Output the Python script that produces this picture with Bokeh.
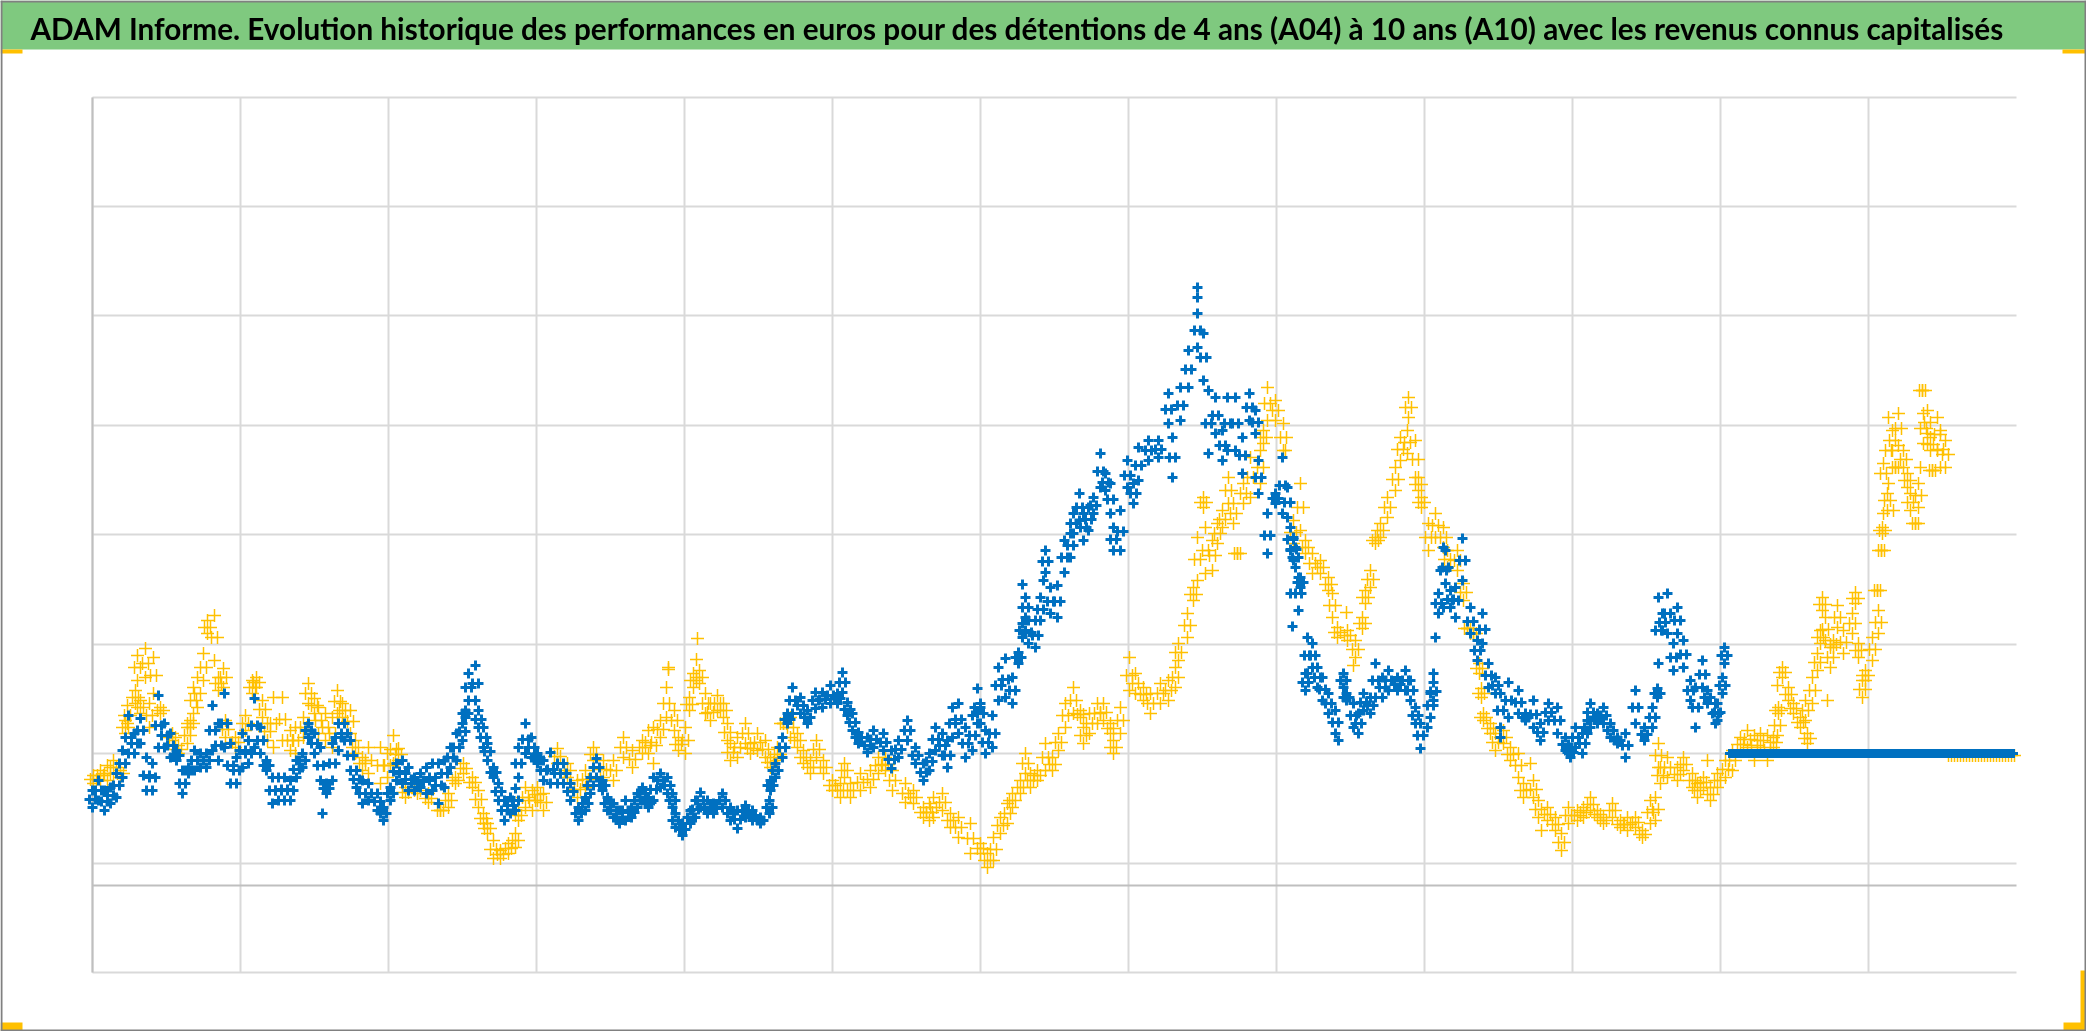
from bokeh.plotting import figure
from bokeh.models import Label, BoxAnnotation, Range1d
from bokeh.embed import file_html
from bokeh.resources import INLINE

TITLE = "ADAM Informe. Evolution historique des performances en euros pour des détentions de 4 ans (A04) à 10 ans (A10) avec les revenus connus capitalisés"

x_grid = [0, 148, 296, 444, 592, 740, 888, 1036, 1184, 1332, 1480, 1628, 1776]
y_grid = [-87, 22, 132, 241, 351, 460, 570, 679, 788]

blue_x = [0,6,12,18,24,30,36,42,48,54,60,66,72,78,84,90,96,102,108,114,120,126,132,138,144,150,156,162,168,174,180,186,192,198,204,210,216,222,228,234,240,246,252,258,264,270,276,285,291,298,304,310,316,322,328,334,340,346,352,358,364,370,373,376,383,386,391,395,401,406,412,418,423,426,433,439,445,451,458,465,471,478,486,493,498,504,510,515,521,527,533,539,545,550,556,561,568,575,580,583,590,598,603,608,615,621,630,638,645,653,660,668,677,678,683,690,695,700,708,715,723,730,738,745,750,755,760,766,775,781,791,799,806,815,823,831,837,843,850,855,860,866,873,880,885,888,893,900,906,913,920,926,930,933,936,943,948,953,958,965,972,978,981,987,991,996,1001,1008,1013,1018,1021,1028,1035,1041,1046,1056,1066,1076,1080,1088,1096,1105,1111,1116,1123,1130,1135,1143,1150,1157,1163,1166,1175,1183,1190,1195,1198,1201,1203,1206,1208,1213,1215,1220,1225,1230,1236,1243,1251,1254,1261,1266,1271,1278,1283,1290,1296,1305,1313,1318,1323,1328,1338,1341,1346,1351,1353,1358,1363,1370,1378,1385,1390,1396,1403,1408,1416,1426,1433,1441,1448,1456,1465,1473,1478,1483,1490,1495,1498,1505,1511,1518,1525,1533,1543,1552,1560,1565,1566,1570,1575,1581,1585,1591,1598,1603,1610,1615,1623,1625,1630,1632]
blue_hi = [95,105,95,98,112,135,170,152,167,128,122,190,162,152,135,115,118,135,132,132,180,162,192,142,128,152,145,187,158,125,108,108,108,105,125,132,162,152,138,102,142,162,162,145,115,105,102,92,78,98,122,125,118,108,112,118,122,122,125,138,152,162,175,212,220,175,158,142,118,102,85,88,97,138,162,148,132,125,133,122,122,102,78,88,108,127,105,88,82,75,85,78,92,98,88,108,112,108,92,72,62,75,85,93,85,82,92,78,75,80,75,68,85,105,122,148,172,198,188,175,193,193,200,192,213,183,172,153,148,155,152,135,145,165,138,122,132,158,152,145,178,182,158,170,197,182,155,170,218,227,208,233,262,288,265,265,288,335,298,300,345,352,372,392,372,378,388,432,412,402,358,375,425,402,438,445,445,492,448,498,535,572,552,495,488,455,488,488,448,492,475,425,372,392,428,398,358,348,338,308,308,212,248,242,218,208,192,175,212,192,182,172,192,188,222,208,215,208,215,205,178,162,192,203,292,338,335,295,298,347,278,245,272,222,208,192,203,195,172,185,162,182,178,148,138,158,152,165,182,172,178,162,148,152,195,158,178,197,288,272,292,242,278,245,205,198,225,195,182,182,208,238]
blue_mid = [86,95,84,90,100,122,148,142,155,110,108,160,150,140,130,102,115,125,125,125,155,140,162,120,115,135,132,160,145,120,95,95,96,95,116,125,155,142,120,97,122,148,152,130,106,92,92,84,72,92,114,112,106,102,104,105,108,100,112,128,138,154,172,198,202,166,148,134,113,94,75,80,85,122,146,138,127,115,116,112,112,94,72,82,100,118,100,82,75,68,75,73,85,92,83,96,105,100,85,65,56,68,76,85,78,77,85,72,66,74,70,65,78,100,115,138,166,185,180,168,185,186,190,187,203,176,163,148,140,146,143,126,136,155,130,113,124,146,140,130,162,166,142,150,178,172,143,152,200,206,195,228,255,278,253,250,276,324,284,284,328,340,362,378,358,366,380,414,403,386,346,354,410,392,420,435,436,476,428,480,516,555,528,462,470,440,462,462,430,478,463,408,350,387,400,383,346,336,328,292,303,203,230,230,208,196,182,163,205,188,170,162,183,180,205,198,205,201,205,195,170,150,180,194,282,315,318,286,285,325,264,235,256,210,200,175,185,183,168,171,153,173,165,141,133,148,142,158,173,167,170,155,145,140,178,151,168,192,255,263,272,228,265,231,195,178,211,188,172,173,200,230]
blue_lo = [78,85,75,82,88,108,132,132,142,95,95,138,138,128,125,92,112,115,118,118,135,125,138,102,102,118,122,138,132,115,82,85,85,85,108,118,148,132,105,92,105,135,145,115,98,82,85,75,65,85,105,102,95,95,98,92,95,82,98,118,125,145,168,185,185,158,138,125,108,85,65,72,75,108,132,128,122,105,102,102,102,85,65,75,92,108,95,75,68,62,65,68,78,85,78,85,98,92,78,58,50,62,68,78,72,72,78,65,57,68,65,62,72,95,108,128,162,172,172,162,177,178,182,182,193,170,155,142,133,138,135,117,128,145,122,105,115,135,130,118,148,152,128,135,162,162,132,138,185,188,182,222,248,268,242,238,265,313,272,268,313,328,352,365,345,355,372,398,395,372,335,335,398,382,405,425,428,462,408,465,498,538,505,432,452,425,435,435,412,465,452,392,332,382,372,368,335,325,318,275,298,195,212,218,198,185,172,152,198,185,158,152,175,172,188,188,195,195,195,185,162,137,168,185,272,278,302,278,268,305,252,225,242,198,192,158,168,172,165,158,145,165,152,135,128,138,132,152,165,162,162,148,142,128,162,145,158,188,222,255,252,215,252,218,185,158,198,182,162,165,192,222]
blue_extra_x = [1105,1105,1246,1335,1343,1198,1200,230,1341,930,951,1408]
blue_extra_y = [598,588,145,158,248,292,259,72,212,301,305,148]

yellow_x = [1,8,15,21,28,33,35,43,45,48,53,57,61,68,80,86,95,98,101,105,111,115,122,126,131,133,143,153,160,164,170,175,181,190,198,203,211,216,222,226,233,240,245,250,258,263,270,276,288,295,301,306,313,325,336,348,356,363,371,380,386,391,395,401,408,416,423,426,433,440,445,451,465,475,485,493,501,511,521,531,540,550,556,561,568,574,582,586,593,597,601,607,613,618,625,631,635,638,645,653,658,665,673,678,685,691,698,705,711,718,724,731,740,748,752,758,768,778,786,793,800,813,821,831,837,841,850,858,866,878,888,895,901,908,915,920,928,933,938,945,953,960,966,973,981,988,991,997,1005,1011,1018,1021,1028,1037,1043,1051,1058,1068,1076,1083,1086,1095,1101,1105,1111,1113,1120,1125,1130,1136,1141,1145,1151,1158,1168,1171,1175,1183,1191,1201,1208,1213,1220,1228,1236,1240,1245,1255,1263,1270,1273,1278,1283,1288,1295,1303,1308,1315,1316,1323,1326,1329,1336,1343,1351,1355,1365,1371,1375,1381,1387,1389,1391,1398,1403,1411,1418,1426,1431,1441,1446,1455,1463,1469,1476,1485,1491,1498,1505,1511,1520,1528,1535,1543,1550,1558,1563,1566,1568,1575,1585,1591,1600,1605,1611,1618,1625,1633,1640,1648,1655,1662,1668,1675,1681,1685,1686,1690,1696,1701,1708,1713,1715,1720,1725,1728,1730,1733,1738,1741,1745,1751,1760,1763,1766,1770,1773,1780,1785,1786,1789,1790,1791,1795,1796,1800,1803,1806,1811,1815,1818,1823,1826,1830,1831,1835,1838,1840,1845,1848,1853]
yellow_hi = [110,115,120,125,115,165,180,195,230,185,237,182,228,178,152,140,158,165,198,208,232,265,270,208,217,165,148,170,205,208,185,162,188,188,155,158,168,202,187,178,172,168,195,182,175,145,128,138,138,132,150,137,98,98,92,75,92,108,122,108,95,72,62,45,35,42,52,75,98,95,98,92,137,122,105,115,138,125,125,148,135,145,155,158,165,198,175,148,158,188,212,215,192,182,190,182,162,142,148,162,142,152,145,128,138,162,168,152,135,125,145,125,105,102,122,102,112,115,128,128,115,102,95,78,82,88,92,72,68,62,42,32,48,68,82,92,105,132,112,115,142,128,152,182,198,175,158,172,182,182,162,145,178,228,212,198,192,202,205,218,242,272,298,348,388,358,345,362,375,408,382,332,402,428,435,455,498,485,462,365,402,345,332,325,308,292,258,255,245,268,295,315,348,362,388,418,448,455,488,445,408,388,362,372,358,335,335,302,257,252,222,197,172,162,152,155,138,132,102,105,85,78,68,52,78,75,78,88,75,68,82,65,68,68,55,85,88,142,118,128,118,128,112,102,108,98,112,125,135,148,155,150,152,150,148,200,178,218,198,182,168,185,152,208,232,255,288,268,238,245,280,255,272,293,242,205,215,248,295,275,335,358,422,392,468,455,418,472,435,412,392,362,402,495,472,475,448,415,468,455,445]
yellow_mid = [106,110,112,118,112,158,170,188,218,178,222,170,210,175,148,136,150,162,185,192,218,258,248,202,208,156,143,162,198,203,176,154,162,166,145,145,158,192,180,165,158,152,184,175,164,138,122,125,120,120,136,131,93,95,87,75,85,105,117,103,86,67,57,36,31,37,45,70,88,85,91,83,129,115,96,106,131,116,115,138,126,138,143,140,156,182,165,141,145,181,205,208,182,173,182,175,153,133,138,152,137,143,136,123,131,162,158,145,128,118,136,118,100,95,115,95,103,106,120,121,105,92,88,73,73,78,83,65,58,47,37,25,36,60,72,85,98,122,105,110,128,121,143,170,185,171,150,162,172,173,157,138,165,210,202,191,182,192,195,208,233,260,291,326,383,335,330,352,366,395,372,332,392,408,418,448,482,475,448,353,378,338,322,318,301,280,253,250,236,262,288,306,345,355,378,406,436,443,478,426,401,383,348,360,348,326,325,293,257,252,217,192,168,157,143,148,131,120,95,96,76,71,61,43,70,70,73,81,71,65,75,61,61,63,51,73,76,130,110,118,111,121,105,95,103,91,105,116,125,141,146,140,145,135,143,160,175,213,191,177,163,175,147,195,223,248,281,256,228,241,268,243,262,287,235,196,210,236,295,263,335,355,412,385,435,445,418,457,426,405,383,362,390,495,457,463,441,415,451,436,431]
yellow_lo = [102,105,105,112,108,152,162,182,205,172,208,158,192,172,145,132,142,158,172,178,205,252,225,195,198,148,138,155,192,198,168,145,138,145,135,132,148,182,172,152,145,138,172,168,152,132,115,112,102,108,122,125,88,92,83,75,78,102,112,98,78,62,52,27,27,32,38,65,78,75,85,75,122,108,88,98,125,108,105,128,118,132,132,122,148,168,155,135,132,175,198,202,172,165,175,168,145,125,128,142,132,135,128,118,125,162,148,138,122,112,128,112,95,88,108,88,95,98,112,115,95,83,82,68,65,68,75,58,48,32,32,18,25,52,62,78,92,112,98,105,115,115,135,158,172,168,142,152,162,165,152,132,152,195,192,185,172,182,185,198,225,248,285,305,378,312,315,342,358,382,362,332,382,388,402,442,465,465,435,342,355,332,312,312,295,268,248,245,228,257,282,298,342,348,368,395,425,432,468,408,395,378,335,348,338,318,315,285,257,252,212,188,165,152,135,142,125,108,88,88,68,65,55,35,62,65,68,75,68,62,68,58,55,58,48,62,65,118,102,108,105,115,98,88,98,85,98,108,115,135,138,125,138,125,138,150,172,208,185,172,158,165,142,182,215,242,275,245,218,238,258,232,252,282,228,188,205,225,295,252,335,352,372,375,402,435,418,440,418,398,375,362,378,495,442,452,435,415,435,418,418]
yellow_extra_x = [576,576,605,604,1254,1261,1438,1449,1615,1735,1828,1193,1801]
yellow_extra_y = [218,216,247,226,273,220,122,55,125,185,418,435,375]

flat_blue_x = list(range(1637, 1923, 2))
flat_blue_y = [132] * len(flat_blue_x)
flat_yellow_x = list(range(1856, 1924, 3))
flat_yellow_y = [130] * len(flat_yellow_x)

GREEN, GOLD, BLUE, YELLOW = "#7FC97F", "#FFC000", "#0070C0", "#FFC000"
GRID, ZERO = "#D9D9D9", "#BFBFBF"
W, H = 2086, 1031
X0, Y0 = 92, 885   # canvas pixel of the data origin
X_END, Y_BOTTOM, Y_TOP = 1924, y_grid[0], y_grid[-1]

p = figure(width=W, height=H, output_backend="svg", toolbar_location=None,
           x_range=Range1d(-X0, W - X0), y_range=Range1d(Y0 - H, Y0),
           min_border=0, background_fill_color="white", outline_line_color=None)
p.styles = {"position": "fixed", "left": "0px", "top": "0px"}
p.xaxis.visible = False
p.yaxis.visible = False
p.grid.visible = False

# gridlines stop at the plot area, which is smaller than the canvas
p.segment(x_grid, [Y_BOTTOM] * len(x_grid), x_grid, [Y_TOP] * len(x_grid), line_color=GRID, line_width=2)
p.segment([0] * len(y_grid), y_grid, [X_END] * len(y_grid), y_grid, line_color=GRID, line_width=2)
p.segment([0, 0], [0, Y_BOTTOM], [X_END, 0], [0, Y_TOP], line_color=ZERO, line_width=2)

yk = dict(marker="cross", size=13, line_color=YELLOW, line_width=1.5)
bk = dict(marker="cross", size=10, line_color=BLUE, line_width=3)
for dx, ys in ((0, yellow_hi), (3, yellow_mid), (-3, yellow_mid), (0, yellow_lo)):
    p.scatter([x + dx for x in yellow_x], ys, **yk)
p.scatter(yellow_extra_x, yellow_extra_y, **yk)
p.scatter(flat_yellow_x, flat_yellow_y, **yk)
for dx, ys in ((0, blue_hi), (3, blue_mid), (-3, blue_mid), (0, blue_lo)):
    p.scatter([x + dx for x in blue_x], ys, **bk)
p.scatter(blue_extra_x, blue_extra_y, **bk)
p.scatter(flat_blue_x, flat_blue_y, marker="cross", size=9, line_color=BLUE, line_width=3)


def box(l, r, t, b, color):
    p.add_layout(BoxAnnotation(left=l - X0, right=r - X0, top=Y0 - t, bottom=Y0 - b,
                               fill_color=color, fill_alpha=1, line_color=None, level="overlay"))


box(0, W, 0, 49, GREEN)
box(0, 22, 49, 53, GOLD)
box(2062, W, 49, 53, GOLD)
box(0, 22, 1022, 1030, GOLD)
box(2063, 2085, 1022, 1030, GOLD)
box(2080, 2085, 970, 1030, GOLD)
box(0, W, 0, 2, "#808080")
box(0, W, 1029, H, "#808080")
box(0, 2, 0, H, "#808080")
box(2084, W, 0, H, "#808080")

p.add_layout(Label(x=30 - X0, y=Y0 - 28, text=TITLE, text_baseline="alphabetic",
                   text_font="Lato", text_font_style="bold",
                   text_font_size="29.7px", text_color="black", level="overlay"))

open("out.html", "w").write(file_html(p, INLINE))
